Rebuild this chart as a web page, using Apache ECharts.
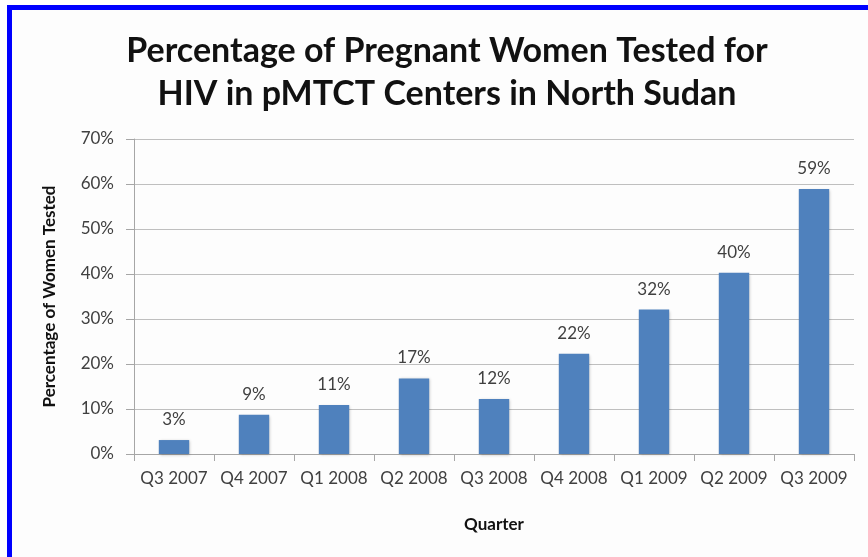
<!DOCTYPE html>
<html><head><meta charset="utf-8">
<script src="https://cdn.jsdelivr.net/npm/echarts@6/dist/echarts.min.js"></script>
<style>
html,body{margin:0;padding:0;background:#fff;}
#frame{position:absolute;left:7px;top:5px;width:861px;height:552px;border-left:5px solid #0000ff;border-top:5px solid #0000ff;box-sizing:border-box;background:#fdfdfd;}
#main{position:absolute;left:0;top:0;width:868px;height:557px;}
</style></head>
<body>
<div id="frame"></div>
<div id="main"></div>
<script>
const categories = ["Q3 2007","Q4 2007","Q1 2008","Q2 2008","Q3 2008","Q4 2008","Q1 2009","Q2 2009","Q3 2009"];
const values = [3.1, 8.7, 10.9, 16.8, 12.2, 22.3, 32.1, 40.3, 58.9];
const yTicks = [0,10,20,30,40,50,60,70];
const titleText = "Percentage of Pregnant Women Tested for\nHIV in pMTCT Centers in North Sudan";
const yName = "Percentage of Women Tested";
const xName = "Quarter";

const font = "Lato, 'Open Sans', sans-serif";
const chart = echarts.init(document.getElementById('main'), null, {renderer:'canvas'});
chart.setOption({
  backgroundColor: 'transparent',
  animation: false,
  title: {
    text: titleText, left: 442, top: 25, textAlign: 'center',
    textStyle: {fontFamily: font, fontWeight: 'bold', fontSize: 34, color: '#111', lineHeight: 43}
  },
  grid: {left: 134, right: 14, top: 139, bottom: 103, containLabel: false},
  xAxis: {
    type: 'category', data: categories,
    name: xName, nameLocation: 'middle', nameGap: 62,
    nameTextStyle: {fontFamily: font, fontWeight: 'bold', fontSize: 17, color: '#111'},
    axisLine: {lineStyle: {color: '#a6a6a6', width: 1}},
    axisTick: {show: true, alignWithLabel: false, length: 7, lineStyle: {color: '#a6a6a6'}},
    axisLabel: {fontFamily: font, fontSize: 17, color: '#404040', margin: 16, interval: 0, hideOverlap: false},
  },
  yAxis: {
    type: 'value', min: 0, max: 70, interval: 10,
    name: yName, nameLocation: 'middle', nameGap: 76, nameRotate: 90,
    nameTextStyle: {fontFamily: font, fontWeight: 'bold', fontSize: 17, color: '#111'},
    axisLine: {show: true, lineStyle: {color: '#a6a6a6'}},
    axisTick: {show: true, length: 8, lineStyle: {color: '#a6a6a6'}},
    axisLabel: {fontFamily: font, fontSize: 17, color: '#404040', margin: 20,
      formatter: v => yTicks.includes(v) ? v + '%' : ''},
    splitLine: {lineStyle: {color: '#bfbfbf', width: 1}}
  },
  series: [{
    type: 'bar', data: values, barWidth: '38%',
    itemStyle: {color: '#4f81bd', shadowColor: 'rgba(0,0,0,0.25)', shadowBlur: 3, shadowOffsetX: 1, shadowOffsetY: 1},
    label: {show: true, position: 'top', distance: 12, fontFamily: font, fontSize: 17, color: '#404040',
      formatter: p => Math.round(p.value) + '%'}
  }]
});
</script>
</body></html>
